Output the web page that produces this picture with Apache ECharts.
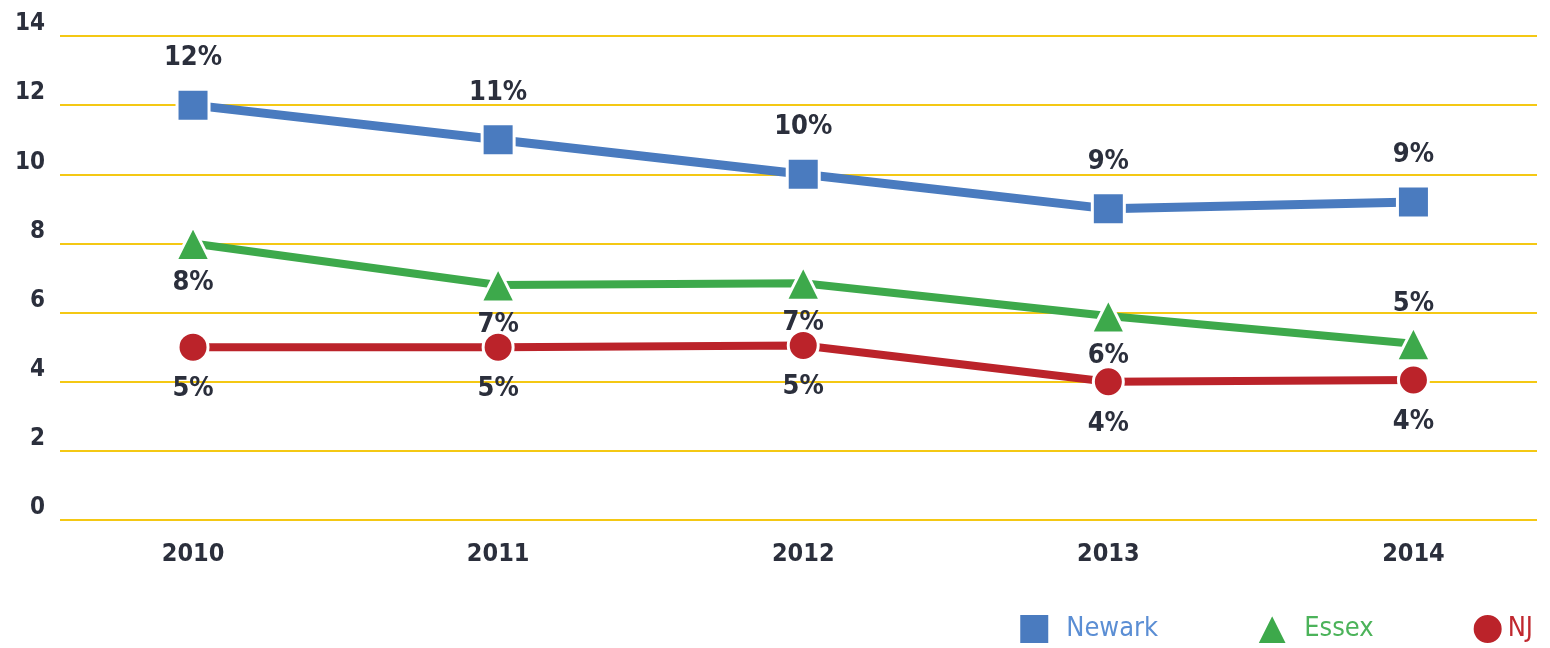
<!DOCTYPE html>
<html>
<head>
<meta charset="utf-8">
<script src="https://cdn.jsdelivr.net/npm/echarts@6/dist/echarts.min.js"></script>
<style>
html,body{margin:0;padding:0;background:#fff;}
#chart{width:1550px;height:648px;}
</style>
</head>
<body>
<div id="chart"></div>
<script>
// data
var years = [2010, 2011, 2012, 2013, 2014];
var newark = [12, 11, 10, 9, 9.2];
var essex = [8, 6.8, 6.85, 5.9, 5.1];
var nj = [5, 5, 5.05, 4, 4.05];
var newarkLabels = ['12%', '11%', '10%', '9%', '9%'];
var essexLabels = ['8%', '7%', '7%', '6%', '5%'];
var njLabels = ['5%', '5%', '5%', '4%', '4%'];
var essexLabelPos = ['bottom', 'bottom', 'bottom', 'bottom', 'top'];
var yTicks = [0, 2, 4, 6, 8, 10, 12, 14];

var font = '"DejaVu Sans Condensed", "DejaVu Sans", sans-serif';
var labelColor = '#2b2f3c';

function makeData(vals, labels, pos) {
  var out = [];
  for (var i = 0; i < vals.length; i++) {
    var item = { value: [years[i], vals[i]], txt: labels[i] };
    if (pos) {
      item.label = { position: pos[i] };
    }
    out.push(item);
  }
  return out;
}

var chart = echarts.init(document.getElementById('chart'));
var option = {
  animation: false,
  grid: { left: 60, right: 13, top: 36, bottom: 128 },
  legend: {
    right: 12,
    top: 608,
    itemWidth: 30,
    itemHeight: 30,
    itemGap: 98,
    textStyle: { fontFamily: font, fontSize: 27, padding: [6, 0, 0, 12] },
    data: [
      { name: 'Newark', icon: 'rect', textStyle: { color: '#5b8ed4' } },
      { name: 'Essex', icon: 'triangle', textStyle: { color: '#4cb35a' } },
      { name: 'NJ', icon: 'circle', textStyle: { color: '#c0282f', padding: [6, 0, 0, 0] } }
    ]
  },
  xAxis: {
    type: 'value',
    min: 2009.564,
    max: 2014.405,
    splitLine: { show: false },
    axisLine: { show: false },
    axisTick: { show: false },
    axisLabel: {
      customValues: years,
      margin: 22,
      fontFamily: font,
      fontSize: 25,
      fontWeight: 'bold',
      color: labelColor,
      formatter: function (v) { return String(v); }
    }
  },
  yAxis: {
    type: 'value',
    min: 0,
    max: 14,
    interval: 2,
    axisLine: { show: false },
    axisTick: { show: false },
    axisLabel: {
      customValues: yTicks,
      margin: 15,
      fontFamily: font,
      fontSize: 24,
      fontWeight: 'bold',
      color: labelColor,
      verticalAlign: 'bottom'
    },
    splitLine: { lineStyle: { color: '#f4c814', width: 2 } }
  },
  series: [
    {
      name: 'Newark',
      type: 'line',
      data: makeData(newark, newarkLabels),
      symbol: 'rect',
      symbolSize: 32,
      color: '#4a7bbf',
      lineStyle: { width: 9, color: '#4a7bbf' },
      itemStyle: { color: '#4a7bbf', borderColor: '#fff', borderWidth: 3 },
      label: {
        show: true, position: 'top', distance: 16,
        fontFamily: font, fontSize: 27, fontWeight: 'bold', color: labelColor,
        formatter: function (p) { return p.data.txt; }
      },
      z: 3
    },
    {
      name: 'Essex',
      type: 'line',
      data: makeData(essex, essexLabels, essexLabelPos),
      symbol: 'triangle',
      symbolSize: 34,
      color: '#3da94b',
      lineStyle: { width: 8, color: '#3da94b' },
      itemStyle: { color: '#3da94b', borderColor: '#fff', borderWidth: 3 },
      label: {
        show: true, position: 'bottom', distance: 8,
        fontFamily: font, fontSize: 27, fontWeight: 'bold', color: labelColor,
        formatter: function (p) { return p.data.txt; }
      },
      z: 4
    },
    {
      name: 'NJ',
      type: 'line',
      data: makeData(nj, njLabels),
      symbol: 'circle',
      symbolSize: 30,
      color: '#bb232a',
      lineStyle: { width: 8, color: '#bb232a' },
      itemStyle: { color: '#bb232a', borderColor: '#fff', borderWidth: 3 },
      label: {
        show: true, position: 'bottom', distance: 12,
        fontFamily: font, fontSize: 27, fontWeight: 'bold', color: labelColor,
        formatter: function (p) { return p.data.txt; }
      },
      z: 5
    }
  ]
};
chart.setOption(option);
</script>
</body>
</html>
